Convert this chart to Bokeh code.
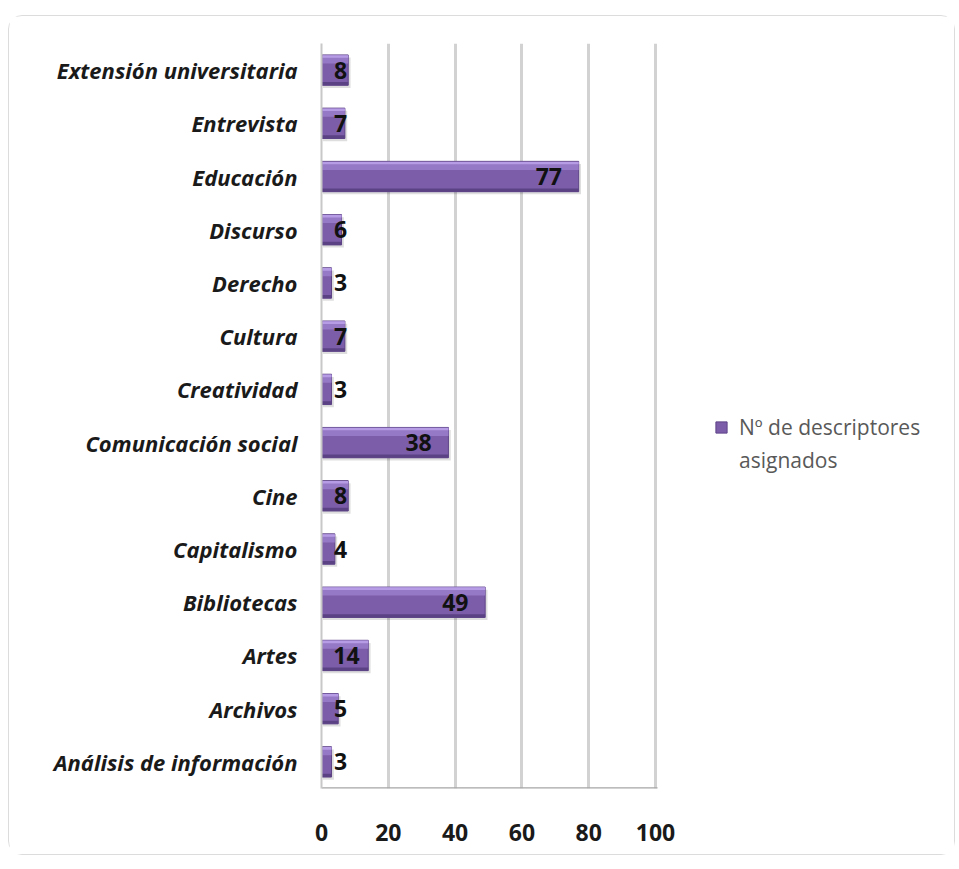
from bokeh.plotting import figure
from bokeh.models import (ColumnDataSource, FactorRange, Range1d, FixedTicker,
                          Legend, LegendItem)
from bokeh.transform import dodge
from bokeh.core.properties import value
from bokeh.embed import file_html
from bokeh.resources import INLINE

# ---- data (bottom to top as drawn) ----
categories = ["Análisis de información", "Archivos", "Artes", "Bibliotecas",
              "Capitalismo", "Cine", "Comunicación social", "Creatividad",
              "Cultura", "Derecho", "Discurso", "Educación", "Entrevista",
              "Extensión universitaria"]
counts = [3, 5, 14, 49, 4, 8, 38, 3, 7, 3, 6, 77, 7, 8]
x_ticks = [0, 20, 40, 60, 80, 100]
series_name_lines = ["Nº de descriptores", "asignados"]

FONT = "Open Sans"
BAR_H = 0.57

# layout: plot area for 0..100 is 336 px wide; the frame continues right to hold the legend
AXIS_PX = 336
FRAME_PX = 631
AXIS_MAX = 100.6
X_END = AXIS_MAX * FRAME_PX / AXIS_PX

# label anchor (right edge): inside end, but never closer to the axis than the text needs
label_x = [max(v - 5.0, 4.0 + 3.7 * len(str(v))) for v in counts]

src = ColumnDataSource(dict(cat=categories, v=counts, lbl=[str(v) for v in counts],
                            lx=label_x, vs=[v + 0.7 for v in counts]))

p = figure(frame_width=FRAME_PX, frame_height=745, output_backend="svg",
           toolbar_location=None,
           y_range=FactorRange(factors=categories, range_padding=0),
           x_range=Range1d(0, X_END),
           min_border_left=312, min_border_right=2, min_border_top=27,
           min_border_bottom=66)
p.margin = (15, 0, 0, 8)
p.styles = {"border": "1px solid #dcdcdc", "border-radius": "14px"}
p.outline_line_color = None
p.background_fill_color = "white"
p.border_fill_color = "white"

# grid
p.xgrid.ticker = FixedTicker(ticks=x_ticks)
p.xgrid.grid_line_color = "#d2d2d2"
p.xgrid.grid_line_width = 3
p.ygrid.grid_line_color = None

# axes
xa = p.xaxis[0]
xa.ticker = FixedTicker(ticks=x_ticks)
xa.axis_line_color = None
xa.major_tick_line_color = None
xa.minor_tick_line_color = None
xa.major_label_standoff = 29
xa.major_label_text_font = FONT
xa.major_label_text_font_size = "23px"
xa.major_label_text_font_style = "bold"
xa.major_label_text_color = "#1a1a1a"

ya = p.yaxis[0]
ya.axis_line_color = "#c8c8c8"
ya.axis_line_width = 2
ya.major_tick_line_color = None
ya.minor_tick_line_color = None
ya.major_label_standoff = 18
ya.major_label_text_font = FONT
ya.major_label_text_font_size = "22px"
ya.major_label_text_font_style = "bold italic"
ya.major_label_text_color = "#1a1a1a"

# bottom axis line spanning 0..100 only
base = ColumnDataSource(dict(c=[categories[0]], x0=[x_ticks[0]], x1=[AXIS_MAX]))
p.segment(x0="x0", x1="x1", y0=dodge("c", -0.5, range=p.y_range),
          y1=dodge("c", -0.5, range=p.y_range), source=base,
          line_color="#a6a6a6", line_width=2.5)

# shadow
p.hbar(y=dodge("cat", -0.05, range=p.y_range), left=0.4, right="vs", height=BAR_H,
       source=src, fill_color="#000000", fill_alpha=0.13, line_color=None)
# body
body = p.hbar(y="cat", left=0, right="v", height=BAR_H, source=src,
              fill_color="#7C5DA9", line_color="#5E4488", line_width=1)
# upper light band
p.hbar(y=dodge("cat", 0.20, range=p.y_range), left=0.3, right="v",
       height=0.15, source=src, fill_color="#9679C6", line_color=None)
p.hbar(y=dodge("cat", 0.255, range=p.y_range), left=0.3, right="v",
       height=0.05, source=src, fill_color="#B69CE4", line_color=None)
# lower dark band
p.hbar(y=dodge("cat", -0.255, range=p.y_range), left=0, right="v",
       height=0.06, source=src, fill_color="#5B4285", line_color=None)

# data labels
p.text(x="lx", y="cat", text="lbl", source=src, text_align="right",
       text_baseline="middle", text_font=value(FONT), text_font_size="23px",
       text_font_style="bold", text_color="#111111")

# invisible stand-in for the wrapped second legend line
blank = p.hbar(y=[], right=[], height=BAR_H, fill_alpha=0, line_alpha=0)

legend = Legend(items=[LegendItem(label=series_name_lines[0], renderers=[body]),
                       LegendItem(label=series_name_lines[1], renderers=[blank])],
                location=(AXIS_PX + 57, 314), orientation="vertical")
legend.margin = 0
legend.padding = 4
legend.spacing = 5
legend.border_line_color = None
legend.background_fill_alpha = 0
legend.glyph_width = 14
legend.glyph_height = 14
legend.label_standoff = 11
legend.label_text_font = FONT
legend.label_text_font_size = "21px"
legend.label_text_color = "#595959"
p.add_layout(legend)

open("out.html", "w").write(file_html(p, INLINE))
